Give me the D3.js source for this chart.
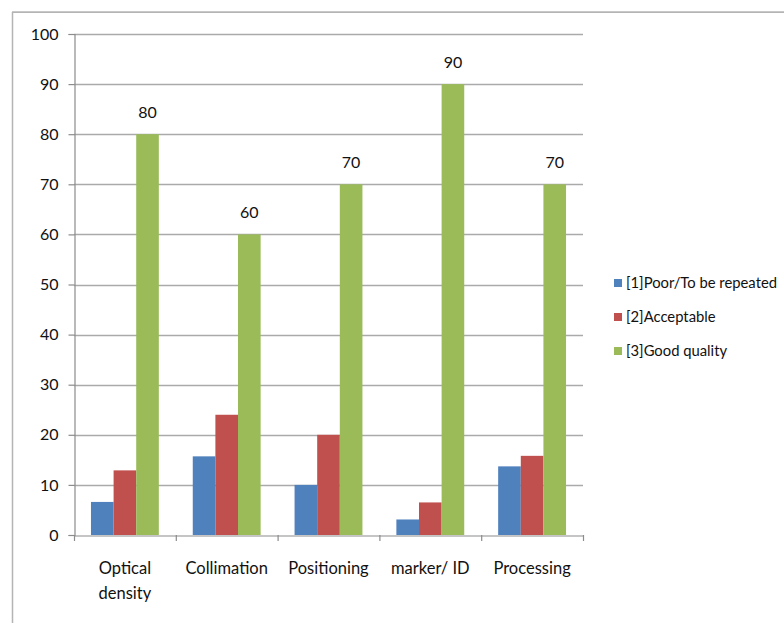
<!DOCTYPE html>
<html>
<head>
<meta charset="utf-8">
<script src="https://cdn.jsdelivr.net/npm/d3@7"></script>
<style>
  html, body { margin: 0; padding: 0; background: #fff; }
  svg { display: block; font-family: Lato, "Open Sans", sans-serif; }
</style>
</head>
<body>
<svg id="chart" width="784" height="623"></svg>
<script>
// Categories (two-line labels split on "\n")
const categories = ["Optical\ndensity", "Collimation", "Positioning", "marker/ ID", "Processing"];
const seriesNames = ["[1]Poor/To be repeated", "[2]Acceptable", "[3]Good quality"];
const seriesColors = ["#4F81BD", "#C0504D", "#9BBB59"];
const poorValues = [6.6, 15.7, 10, 3.1, 13.7];
const acceptableValues = [12.9, 24, 20, 6.5, 15.8];
const goodValues = [80, 60, 70, 90, 70];
const yTicks = [0, 10, 20, 30, 40, 50, 60, 70, 80, 90, 100];

const series = [poorValues, acceptableValues, goodValues];

const svg = d3.select("#chart");

// Outer chart frame
svg.append("line").attr("x1", 12).attr("x2", 784).attr("y1", 11.5).attr("y2", 11.5)
  .attr("stroke", "#c8c8c8").attr("stroke-width", 1);
svg.append("line").attr("x1", 12).attr("x2", 784).attr("y1", 12.5).attr("y2", 12.5)
  .attr("stroke", "#b4b4b4").attr("stroke-width", 1);
svg.append("line").attr("x1", 12.5).attr("x2", 12.5).attr("y1", 12).attr("y2", 623)
  .attr("stroke", "#b4b4b4").attr("stroke-width", 1.5);

const plot = { left: 74, right: 583, top: 34, bottom: 535 };

const x = d3.scaleBand().domain(categories).range([plot.left, plot.right]).paddingInner(0).paddingOuter(0);
const y = d3.scaleLinear().domain([0, 100]).range([plot.bottom, plot.top]);

// Each group: three bars with a 150% gap width
const barW = x.bandwidth() / 4.5;
const xs = d3.scaleBand().domain(d3.range(3)).range([barW * 0.75, barW * 3.75]).padding(0);

// Horizontal gridlines
svg.append("g").selectAll("line").data(yTicks.filter(d => d > 0)).join("line")
  .attr("x1", plot.left).attr("x2", plot.right)
  .attr("y1", d => Math.round(y(d)) + 0.5).attr("y2", d => Math.round(y(d)) + 0.5)
  .attr("stroke", "#aaaaaa").attr("stroke-width", 1.3);

// Y axis
const yAxis = svg.append("g").attr("transform", `translate(${plot.left + 0.5},0)`)
  .call(d3.axisLeft(y).tickValues(yTicks).tickSize(6).tickPadding(10).tickFormat(d3.format("d")));
yAxis.select(".domain").attr("stroke", "#8c8c8c").attr("stroke-width", 1.2);
yAxis.selectAll(".tick line").attr("stroke", "#8c8c8c").attr("stroke-width", 1.2);
yAxis.selectAll(".tick text").attr("fill", "#111").attr("font-size", 16)
  .attr("font-family", "Lato, sans-serif");

// Bars
const groups = svg.append("g").selectAll("g").data(categories).join("g")
  .attr("transform", d => `translate(${x(d)},0)`);
groups.selectAll("rect").data((c, i) => series.map((s, k) => ({ k, v: s[i] }))).join("rect")
  .attr("x", d => xs(d.k))
  .attr("width", xs.bandwidth())
  .attr("y", d => y(d.v))
  .attr("height", d => y(0) - y(d.v))
  .attr("fill", d => seriesColors[d.k]);

// Value labels above the good-quality bars
groups.append("text")
  .datum((c, i) => goodValues[i])
  .attr("x", xs(2) + xs.bandwidth() / 2)
  .attr("y", d => y(d) - 16)
  .attr("text-anchor", "middle")
  .attr("font-size", 16)
  .attr("fill", "#111")
  .text(d => d);

// X axis
const xAxis = svg.append("g").attr("transform", `translate(0,${plot.bottom + 0.5})`)
  .call(d3.axisBottom(x).tickSize(0).tickFormat(""));
xAxis.select(".domain").attr("stroke", "#8c8c8c").attr("stroke-width", 1.2);
// Tick marks at category boundaries
svg.append("g").selectAll("line")
  .data(categories.map(c => x(c)).concat([plot.right]))
  .join("line")
  .attr("x1", d => d + 0.5).attr("x2", d => d + 0.5)
  .attr("y1", plot.bottom).attr("y2", plot.bottom + 6)
  .attr("stroke", "#8c8c8c").attr("stroke-width", 1.2);

// Category labels
const catLabels = svg.append("g").selectAll("text").data(categories).join("text")
  .attr("x", d => x(d) + x.bandwidth() / 2)
  .attr("y", 574)
  .attr("text-anchor", "middle")
  .attr("font-size", 16.5)
  .attr("fill", "#111");
catLabels.each(function(d) {
  const lines = d.split("\n");
  const t = d3.select(this);
  lines.forEach((ln, i) => {
    t.append("tspan").attr("x", x(d) + x.bandwidth() / 2).attr("dy", i === 0 ? 0 : 25).text(ln);
  });
});

// Legend
const legend = svg.append("g").selectAll("g").data(seriesNames).join("g")
  .attr("transform", (d, i) => `translate(614,${283 + i * 34})`);
legend.append("rect").attr("x", 0).attr("y", -4).attr("width", 8).attr("height", 8)
  .attr("fill", (d, i) => seriesColors[i]);
legend.append("text").attr("x", 12).attr("y", 5)
  .attr("font-size", 14.8).attr("fill", "#111")
  .text(d => d);
</script>
</body>
</html>
